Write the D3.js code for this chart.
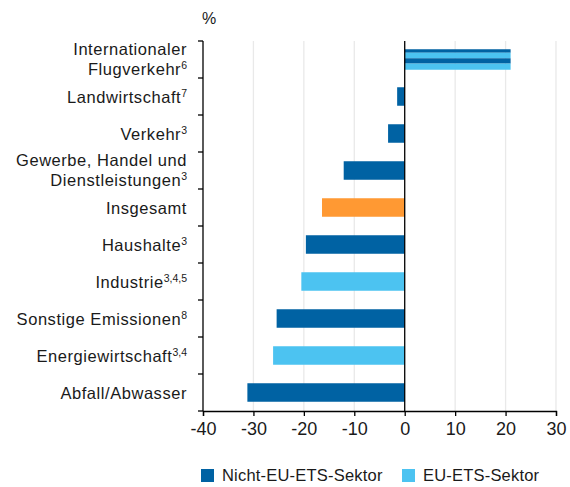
<!DOCTYPE html>
<html>
<head>
<meta charset="utf-8">
<script src="https://cdn.jsdelivr.net/npm/d3@7"></script>
<style>
  body { margin: 0; background: #fff; }
  svg { font-family: "Liberation Sans", Arial, sans-serif; }
</style>
</head>
<body>
<svg id="chart" width="570" height="487"></svg>
<script>
// data
var categories = ["Internationaler Flugverkehr", "Landwirtschaft", "Verkehr", "Gewerbe, Handel und Dienstleistungen",
  "Insgesamt", "Haushalte", "Industrie", "Sonstige Emissionen", "Energiewirtschaft", "Abfall/Abwasser"];
var labelLines = [["Internationaler", "Flugverkehr"], ["Landwirtschaft"], ["Verkehr"], ["Gewerbe, Handel und", "Dienstleistungen"],
  ["Insgesamt"], ["Haushalte"], ["Industrie"], ["Sonstige Emissionen"], ["Energiewirtschaft"], ["Abfall/Abwasser"]];
var footnotes = ["6", "7", "3", "3", "", "3", "3,4,5", "8", "3,4", ""];
var values = [21, -1.5, -3.3, -12.1, -16.4, -19.6, -20.5, -25.4, -26.1, -31.2];
// sector: n = Nicht-EU-ETS, e = EU-ETS, t = total, m = both (striped)
var sectors = ["m", "n", "n", "n", "t", "n", "e", "n", "e", "n"];
var xTicks = [-40, -30, -20, -10, 0, 10, 20, 30];
var legendItems = ["Nicht-EU-ETS-Sektor", "EU-ETS-Sektor"];

var colors = { n: "#0062a3", e: "#4cc3f1", t: "#ff9933" };
var textColor = "#1a1a1a";

var svg = d3.select("#chart");
var top0 = 41, bottom0 = 411;

var x = d3.scaleLinear().domain([-40, 30]).range([203, 556]);
var y = d3.scaleBand().domain(categories).range([top0, bottom0]).paddingInner(0.5).paddingOuter(0.25);

// grid
svg.append("g").selectAll("line")
  .data(xTicks.filter(function(d) { return d != -40 && d != 0; }))
  .enter().append("line")
    .attr("x1", function(d) { return x(d); })
    .attr("x2", function(d) { return x(d); })
    .attr("y1", top0)
    .attr("y2", bottom0)
    .attr("stroke", "#e9e9e9")
    .attr("stroke-width", 1.3);

// bars
var bars = svg.append("g");
categories.forEach(function(c, i) {
  var v = values[i];
  var x0 = x(Math.min(0, v)), w = Math.abs(x(v) - x(0));
  var y0 = y(c), h = y.bandwidth();
  if (sectors[i] == "m") {
    var yy = y0 - 1, hh = h + 2;
    var parts = [[0, 0.17, "n"], [0.17, 0.44, "e"], [0.44, 0.70, "n"], [0.70, 1, "e"]];
    parts.forEach(function(p) {
      bars.append("rect")
        .attr("x", x0).attr("width", w)
        .attr("y", yy + p[0] * hh).attr("height", (p[1] - p[0]) * hh)
        .attr("fill", colors[p[2]]);
    });
  } else {
    bars.append("rect")
      .attr("x", x0).attr("width", w)
      .attr("y", y0).attr("height", h)
      .attr("fill", colors[sectors[i]]);
  }
});

// zero line
svg.append("line")
  .attr("x1", x(0)).attr("x2", x(0))
  .attr("y1", top0).attr("y2", bottom0)
  .attr("stroke", "#000").attr("stroke-width", 1.3);

// left axis, ticks between the categories
var yAxis = svg.append("g");
yAxis.append("line")
  .attr("x1", 203).attr("x2", 203)
  .attr("y1", top0).attr("y2", bottom0)
  .attr("stroke", "#000").attr("stroke-width", 1.3);
d3.range(categories.length + 1).forEach(function(i) {
  var yy = top0 + i * (bottom0 - top0) / categories.length;
  yAxis.append("line")
    .attr("x1", 198).attr("x2", 203)
    .attr("y1", yy).attr("y2", yy)
    .attr("stroke", "#000").attr("stroke-width", 1.3);
});

// category labels
var lab = svg.append("g").attr("text-anchor", "end").attr("fill", textColor)
  .style("font-size", "16.5px").style("letter-spacing", "0.55px");
categories.forEach(function(c, i) {
  var lines = labelLines[i];
  var cy = y(c) + y.bandwidth() / 2;
  lines.forEach(function(l, j) {
    var t = lab.append("text")
      .attr("x", 187)
      .attr("y", cy + 6 + (j - (lines.length - 1) / 2) * 20 - (lines.length > 1 ? 1 : 0));
    t.append("tspan").text(l);
    if (j == lines.length - 1 && footnotes[i]) {
      t.append("tspan").attr("dy", -6).style("font-size", "10.5px").style("letter-spacing", "0px").text(footnotes[i]);
    }
  });
});

// bottom axis
var xAxis = d3.axisBottom(x).tickValues(xTicks).tickSize(5).tickPadding(6)
  .tickFormat(function(d) { return String(d); });
var gx = svg.append("g").attr("transform", "translate(0," + bottom0 + ")").call(xAxis);
gx.select(".domain").attr("stroke", "#000").attr("stroke-width", 1.3);
gx.selectAll(".tick line").attr("stroke", "#000").attr("stroke-width", 1.3);
gx.selectAll("text").style("font-size", "18px").attr("fill", textColor)
  .style("font-family", "'Liberation Sans', Arial, sans-serif");

// unit
svg.append("text").attr("x", 202).attr("y", 24).style("font-size", "16px").attr("fill", textColor).text("%");

// legend
var legend = svg.append("g");
legendItems.forEach(function(d, i) {
  var lx = [201, 402][i];
  legend.append("rect").attr("x", lx).attr("y", 469).attr("width", 13).attr("height", 13)
    .attr("fill", colors[i == 0 ? "n" : "e"]);
  legend.append("text").attr("x", lx + 21).attr("y", 481).style("font-size", "16.5px")
    .style("letter-spacing", "0.2px").attr("fill", textColor).text(d);
});
</script>
</body>
</html>
